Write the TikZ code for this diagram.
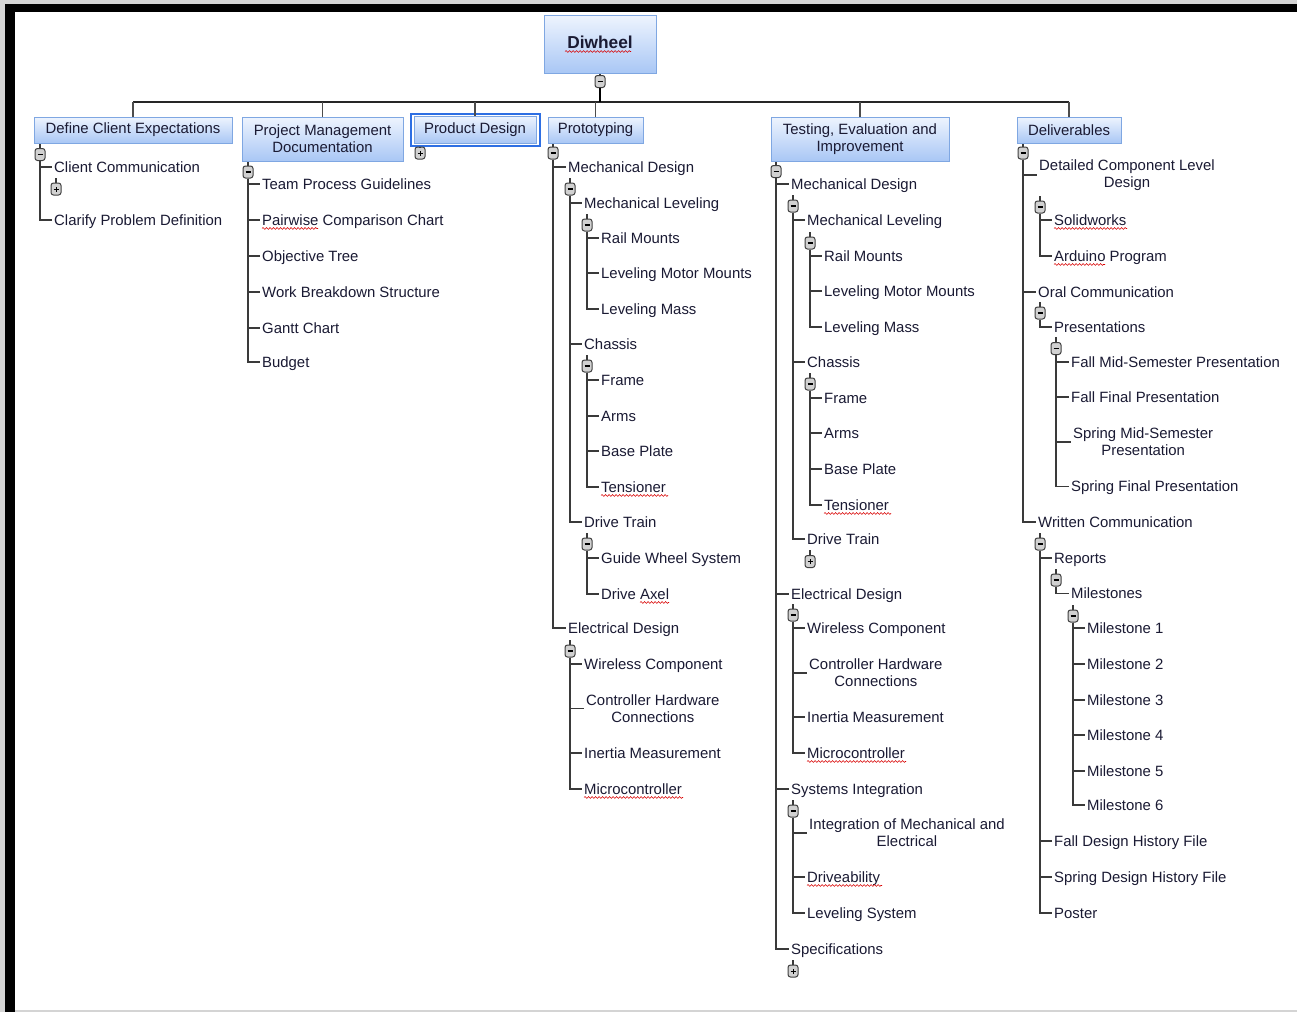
\documentclass[tikz,border=0pt]{standalone}
\usepackage{fontspec}
\setmainfont{Liberation Sans}
\usetikzlibrary{decorations.pathmorphing}
\definecolor{tcol}{HTML}{1A1A33}
\definecolor{btop}{HTML}{EEF4FE}
\definecolor{bbot}{HTML}{A9C7F5}
\definecolor{bbord}{HTML}{7FA7E2}
\definecolor{lcol}{HTML}{3A3A3A}
\definecolor{selcol}{HTML}{2E6FE3}
\newcommand\tf{\fontsize{14.9}{17}\selectfont}
\newcommand\kid[2]{\draw[tree] (#1.south) |- ([xshift=-2pt]#2.west);}
\newcommand\stem[1]{\draw[tree] (#1.north) -- ++(0,-5);}
\begin{document}
\begin{tikzpicture}[x=1pt,y=-1pt,
 txt/.style={font=\tf, text=tcol, inner sep=0pt, anchor=west, text height=10.5pt, text depth=0pt},
 txtm/.style={font=\tf, text=tcol, inner sep=0pt, anchor=west, align=center},
 lbox/.style={draw=bbord, line width=1pt, top color=btop, bottom color=bbot, inner sep=0pt, font=\tf, text=tcol, align=center},
 tree/.style={draw=lcol, line width=1.4pt},
 drop/.style={draw=black!70, line width=1.2pt},
 ctl/.style={draw=black!75, fill=black!18, rounded corners=2.5pt, minimum width=10pt, minimum height=12pt, inner sep=0pt, line width=1pt},
 cmin/.style={ctl, path picture={\draw[black, line width=1.1pt] ([xshift=-2.5pt]path picture bounding box.center) -- ([xshift=2.5pt]path picture bounding box.center);}},
 cplus/.style={ctl, path picture={\draw[black, line width=1pt] ([xshift=-2.5pt]path picture bounding box.center) -- ([xshift=2.5pt]path picture bounding box.center) ([yshift=-2.5pt]path picture bounding box.center) -- ([yshift=2.5pt]path picture bounding box.center);}},
 wavy/.style={draw=red!85!black, line width=0.6pt, decorate, decoration={snake, amplitude=0.9pt, segment length=3.5pt}}
]
\useasboundingbox (0,0) rectangle (1297,1012);
% frame
\fill[black!17] (0,0) rectangle (1297,1012);
\fill[black] (5,3.5) rectangle (1297,1012);
\fill[white] (15,12) rectangle (1297,1010);
\fill[black!17] (15,1010) rectangle (1297,1012);

% root
\node[lbox, minimum width=112pt, minimum height=58pt, text height=12.7pt, text depth=4pt, font=\fontsize{17.3}{20}\selectfont\bfseries] (root) at (600,44) {Diwheel};
\draw[wavy] (565,51.5) -- (631,51.5);
\node[cmin] (rc) at (600,81.5) {};
\draw[tree] (root.south) -- (rc.north);
\coordinate (barL) at (133,102);
\coordinate (barR) at (1069,102);
\draw[draw=black!85, line width=1.5pt] (barL) -- (barR);
\draw[black, line width=2.6pt] (rc.south) -- (rc.south |- barL);

% level 1
\node[lbox, minimum width=198pt, minimum height=26pt] (dce) at (133,130) {Define Client Expectations};
\node[lbox, minimum width=161pt, minimum height=44pt] (pmd) at (322.5,139) {Project Management\\Documentation};
\node[lbox, minimum width=122pt, minimum height=27pt] (pd) at (475,129.5) {Product Design};
\node[draw=selcol, line width=2pt, minimum width=129pt, minimum height=32pt, inner sep=0pt] (pdsel) at (475.5,130) {};
\node[lbox, minimum width=95pt, minimum height=26pt] (pro) at (595.5,130) {Prototyping};
\node[lbox, minimum width=178pt, minimum height=44pt] (tei) at (860,139) {Testing, Evaluation and\\Improvement};
\node[lbox, minimum width=104pt, minimum height=26pt] (del) at (1069,130) {Deliverables};
\foreach \b in {dce,pmd,pro,tei,del} \draw[drop] (\b.north) -- (\b.north |- barL);
\draw[drop] (pd.north) -- (pd.north |- barL);

% Define Client Expectations
\node[cmin] (dcec) at (40,154.5) {};
\draw[tree] (dcec.north) -- (dcec.north |- dce.south);
\node[txt] (cc) at (54,167) {Client Communication};
\node[txt] (cpd) at (54,220) {Clarify Problem Definition};
\kid{dcec}{cc} \kid{dcec}{cpd}
\node[cplus] (ccc) at (56,189) {};
\stem{ccc}

% Project Management Documentation
\node[cmin] (pmdc) at (248,172) {};
\draw[tree] (pmdc.north) -- (pmdc.north |- pmd.south);
\node[txt] (tpg) at (262,184) {Team Process Guidelines};
\node[txt] (pcc) at (262,220) {Pairwise Comparison Chart};
\node[txt] (ot) at (262,256) {Objective Tree};
\node[txt] (wbs) at (262,292) {Work Breakdown Structure};
\node[txt] (gc) at (262,328) {Gantt Chart};
\node[txt] (bud) at (262,362) {Budget};
\foreach \c in {tpg,pcc,ot,wbs,gc,bud} {\kid{pmdc}{\c}}
\draw[wavy] ([yshift=-3pt]pcc.south west) -- ++(56,0);

% Product Design
\node[cplus] (pdc) at (420,153) {};
\draw[tree] (pdc.north) -- (pdc.north |- pdsel.south);

% Prototyping
\node[cmin] (proc) at (553,153) {};
\draw[tree] (proc.north) -- (proc.north |- pro.south);
\node[txt] (p1) at (568,167) {Mechanical Design};
\node[txt] (p2) at (568,628) {Electrical Design};
\kid{proc}{p1} \kid{proc}{p2}
\node[cmin] (p1c) at (570,189) {}; \stem{p1c}
\node[txt] (p11) at (584,203) {Mechanical Leveling};
\node[txt] (p12) at (584,344) {Chassis};
\node[txt] (p13) at (584,522) {Drive Train};
\kid{p1c}{p11} \kid{p1c}{p12} \kid{p1c}{p13}
\node[cmin] (p11c) at (587,225) {}; \stem{p11c}
\node[txt] (p111) at (601,238) {Rail Mounts};
\node[txt] (p112) at (601,273) {Leveling Motor Mounts};
\node[txt] (p113) at (601,309) {Leveling Mass};
\kid{p11c}{p111} \kid{p11c}{p112} \kid{p11c}{p113}
\node[cmin] (p12c) at (587,366) {}; \stem{p12c}
\node[txt] (p121) at (601,380) {Frame};
\node[txt] (p122) at (601,416) {Arms};
\node[txt] (p123) at (601,451) {Base Plate};
\node[txt] (p124) at (601,487) {Tensioner};
\kid{p12c}{p121} \kid{p12c}{p122} \kid{p12c}{p123} \kid{p12c}{p124}
\draw[wavy] ([yshift=-3pt]p124.south west) -- ++(67,0);
\node[cmin] (p13c) at (587,544) {}; \stem{p13c}
\node[txt] (p131) at (601,558) {Guide Wheel System};
\node[txt] (p132) at (601,594) {Drive Axel};
\kid{p13c}{p131} \kid{p13c}{p132}
\draw[wavy] ([xshift=39pt,yshift=-3pt]p132.south west) -- ++(29,0);
\node[cmin] (p2c) at (570,651) {}; \stem{p2c}
\node[txt] (p21) at (584,664) {Wireless Component};
\node[txtm] (p22) at (586,708.5) {Controller Hardware\\Connections};
\node[txt] (p23) at (584,753) {Inertia Measurement};
\node[txt] (p24) at (584,789) {Microcontroller};
\kid{p2c}{p21} \kid{p2c}{p22} \kid{p2c}{p23} \kid{p2c}{p24}
\draw[wavy] ([yshift=-3pt]p24.south west) -- ++(99,0);

% Testing, Evaluation and Improvement
\node[cmin] (tc) at (776,171.5) {};
\draw[tree] (tc.north) -- (tc.north |- tei.south);
\node[txt] (t1) at (791,184) {Mechanical Design};
\node[txt] (t2) at (791,594) {Electrical Design};
\node[txt] (t3) at (791,789) {Systems Integration};
\node[txt] (t4) at (791,949) {Specifications};
\kid{tc}{t1} \kid{tc}{t2} \kid{tc}{t3} \kid{tc}{t4}
\node[cmin] (t1c) at (793,206) {}; \stem{t1c}
\node[txt] (t11) at (807,220) {Mechanical Leveling};
\node[txt] (t12) at (807,362) {Chassis};
\node[txt] (t13) at (807,539) {Drive Train};
\kid{t1c}{t11} \kid{t1c}{t12} \kid{t1c}{t13}
\node[cmin] (t11c) at (810,243) {}; \stem{t11c}
\node[txt] (t111) at (824,256) {Rail Mounts};
\node[txt] (t112) at (824,291) {Leveling Motor Mounts};
\node[txt] (t113) at (824,327) {Leveling Mass};
\kid{t11c}{t111} \kid{t11c}{t112} \kid{t11c}{t113}
\node[cmin] (t12c) at (810,384) {}; \stem{t12c}
\node[txt] (t121) at (824,398) {Frame};
\node[txt] (t122) at (824,433) {Arms};
\node[txt] (t123) at (824,469) {Base Plate};
\node[txt] (t124) at (824,505) {Tensioner};
\kid{t12c}{t121} \kid{t12c}{t122} \kid{t12c}{t123} \kid{t12c}{t124}
\draw[wavy] ([yshift=-3pt]t124.south west) -- ++(67,0);
\node[cplus] (t13c) at (810,561.5) {}; \stem{t13c}
\node[cmin] (t2c) at (793,615) {}; \stem{t2c}
\node[txt] (t21) at (807,628) {Wireless Component};
\node[txtm] (t22) at (809,673) {Controller Hardware\\Connections};
\node[txt] (t23) at (807,717) {Inertia Measurement};
\node[txt] (t24) at (807,753) {Microcontroller};
\kid{t2c}{t21} \kid{t2c}{t22} \kid{t2c}{t23} \kid{t2c}{t24}
\draw[wavy] ([yshift=-3pt]t24.south west) -- ++(99,0);
\node[cmin] (t3c) at (793,811) {}; \stem{t3c}
\node[txtm] (t31) at (809,833) {Integration of Mechanical and\\Electrical};
\node[txt] (t32) at (807,877) {Driveability};
\node[txt] (t33) at (807,913) {Leveling System};
\kid{t3c}{t31} \kid{t3c}{t32} \kid{t3c}{t33}
\draw[wavy] ([yshift=-3pt]t32.south west) -- ++(75,0);
\node[cplus] (t4c) at (793,971) {}; \stem{t4c}

% Deliverables
\node[cmin] (dc) at (1023,153) {};
\draw[tree] (dc.north) -- (dc.north |- del.south);
\node[txtm] (d1) at (1039,175) {Detailed Component Level\\Design};
\node[txt] (d2) at (1038,292) {Oral Communication};
\node[txt] (d3) at (1038,522) {Written Communication};
\kid{dc}{d1} \kid{dc}{d2} \kid{dc}{d3}
\node[cmin] (d1c) at (1040,207) {}; \stem{d1c}
\node[txt] (d11) at (1054,220) {Solidworks};
\node[txt] (d12) at (1054,256) {Arduino Program};
\kid{d1c}{d11} \kid{d1c}{d12}
\draw[wavy] ([yshift=-3pt]d11.south west) -- ++(73,0);
\draw[wavy] ([yshift=-3pt]d12.south west) -- ++(51,0);
\node[cmin] (d2c) at (1040,313) {}; \stem{d2c}
\node[txt] (d21) at (1054,327) {Presentations};
\kid{d2c}{d21}
\node[cmin] (d21c) at (1056,348.5) {}; \stem{d21c}
\node[txt] (d211) at (1071,362) {Fall Mid-Semester Presentation};
\node[txt] (d212) at (1071,397) {Fall Final Presentation};
\node[txtm] (d213) at (1073,442) {Spring Mid-Semester\\Presentation};
\node[txt] (d214) at (1071,486.5) {Spring Final Presentation};
\kid{d21c}{d211} \kid{d21c}{d212} \kid{d21c}{d213} \kid{d21c}{d214}
\node[cmin] (d3c) at (1040,544) {}; \stem{d3c}
\node[txt] (d31) at (1054,558) {Reports};
\node[txt] (d32) at (1054,841) {Fall Design History File};
\node[txt] (d33) at (1054,877) {Spring Design History File};
\node[txt] (d34) at (1054,913) {Poster};
\kid{d3c}{d31} \kid{d3c}{d32} \kid{d3c}{d33} \kid{d3c}{d34}
\node[cmin] (d31c) at (1056,580) {}; \stem{d31c}
\node[txt] (d311) at (1071,593.5) {Milestones};
\kid{d31c}{d311}
\node[cmin] (d311c) at (1073,616) {}; \stem{d311c}
\node[txt] (m1) at (1087,628) {Milestone 1};
\node[txt] (m2) at (1087,664) {Milestone 2};
\node[txt] (m3) at (1087,700) {Milestone 3};
\node[txt] (m4) at (1087,735) {Milestone 4};
\node[txt] (m5) at (1087,771) {Milestone 5};
\node[txt] (m6) at (1087,805) {Milestone 6};
\foreach \c in {m1,m2,m3,m4,m5,m6} {\kid{d311c}{\c}}
\end{tikzpicture}
\end{document}
